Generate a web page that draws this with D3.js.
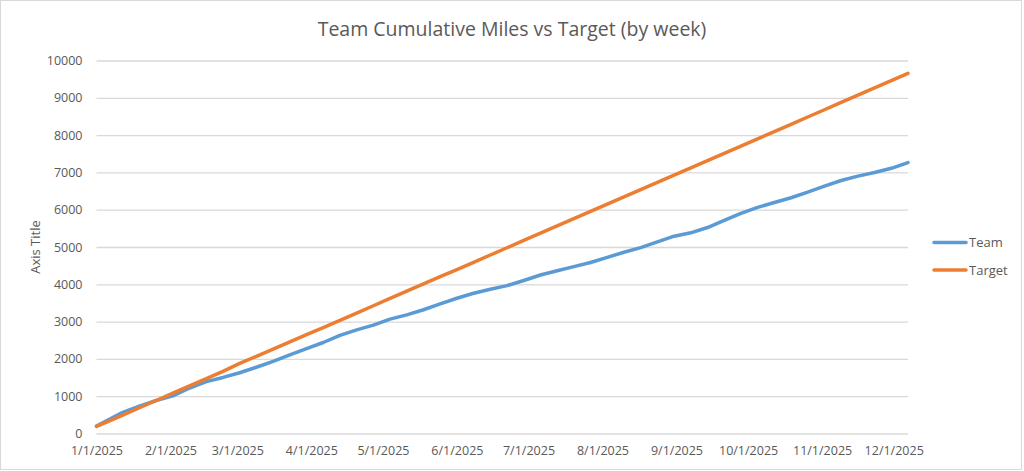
<!DOCTYPE html>
<html lang="en">
<head>
  <meta charset="UTF-8">
  <title>Team Cumulative Miles vs Target</title>
  <script src="https://cdnjs.cloudflare.com/ajax/libs/d3/7.8.5/d3.min.js"></script>
  <style>
    body {
      margin: 0;
      background: white;
    }
    svg {
      display: block;
      font-family: "Open Sans", sans-serif;
    }
  </style>
</head>
<body>
  <script>
    // weekly dates (first day of the year, then every Sunday)
    var dates = [
      "2025-01-01", "2025-01-05", "2025-01-12", "2025-01-19", "2025-01-26",
      "2025-02-02", "2025-02-09", "2025-02-16", "2025-02-23",
      "2025-03-02", "2025-03-09", "2025-03-16", "2025-03-23", "2025-03-30",
      "2025-04-06", "2025-04-13", "2025-04-20", "2025-04-27",
      "2025-05-04", "2025-05-11", "2025-05-18", "2025-05-25",
      "2025-06-01", "2025-06-08", "2025-06-15", "2025-06-22", "2025-06-29",
      "2025-07-06", "2025-07-13", "2025-07-20", "2025-07-27",
      "2025-08-03", "2025-08-10", "2025-08-17", "2025-08-24", "2025-08-31",
      "2025-09-07", "2025-09-14", "2025-09-21", "2025-09-28",
      "2025-10-05", "2025-10-12", "2025-10-19", "2025-10-26",
      "2025-11-02", "2025-11-09", "2025-11-16", "2025-11-23", "2025-11-30",
      "2025-12-07"
    ];

    var team = [
      200, 334, 568, 736, 884, 1008, 1220, 1392, 1503,
      1629, 1776, 1934, 2106, 2274, 2440, 2633, 2779, 2906,
      3067, 3180, 3318, 3475, 3626, 3760, 3867, 3965, 4101,
      4249, 4362, 4474, 4585, 4721, 4858, 4985, 5136, 5290,
      5380, 5522, 5711, 5903, 6062, 6194, 6320, 6472, 6630,
      6782, 6900, 6998, 7110, 7264
    ];

    var target = [
      190, 300, 495, 690, 885, 1080, 1275, 1470, 1665,
      1880, 2070, 2260, 2455, 2650, 2840, 3035, 3230, 3425,
      3620, 3815, 4010, 4205, 4395, 4590, 4785, 4980, 5175,
      5370, 5565, 5760, 5955, 6150, 6345, 6540, 6730, 6925,
      7120, 7315, 7510, 7705, 7900, 8095, 8290, 8485, 8680,
      8875, 9070, 9265, 9460, 9655
    ];

    var yTicks = [0, 1000, 2000, 3000, 4000, 5000, 6000, 7000, 8000, 9000, 10000];
    var xTicks = [
      "2025-01-01", "2025-02-01", "2025-03-01", "2025-04-01", "2025-05-01", "2025-06-01",
      "2025-07-01", "2025-08-01", "2025-09-01", "2025-10-01", "2025-11-01", "2025-12-01"
    ];

    var seriesNames = ["Team", "Target"];
    var seriesColors = ["#5B9BD5", "#ED7D31"];

    var w = 1024;
    var h = 471;
    var plotLeft = 96.5;
    var plotRight = 908;
    var plotTop = 60.5;
    var plotBottom = 433.5;
    var textColor = "#595959";

    var parse = d3.utcParse("%Y-%m-%d");
    var fmt = function(d) {
      return (d.getUTCMonth() + 1) + "/" + d.getUTCDate() + "/" + d.getUTCFullYear();
    };

    var series = [team, target].map(function(vals, k) {
      return {
        name: seriesNames[k],
        color: seriesColors[k],
        values: vals.map(function(v, i) {
          return { date: parse(dates[i]), value: v };
        })
      };
    });

    var svg = d3.select("body").append("svg")
      .attr("width", w)
      .attr("height", h);

    // chart frame
    svg.append("rect")
      .attr("x", 0.5)
      .attr("y", 0.5)
      .attr("width", w - 3)
      .attr("height", h - 2)
      .attr("fill", "white")
      .attr("stroke", "#d9d9d9");

    var xScale = d3.scaleUtc()
      .domain(d3.extent(dates, function(d) { return parse(d); }))
      .range([plotLeft, plotRight]);

    var yScale = d3.scaleLinear()
      .domain([0, 10000])
      .range([plotBottom, plotTop]);

    // horizontal gridlines + y labels
    var yAxis = d3.axisLeft(yScale)
      .tickValues(yTicks)
      .tickSize(-(plotRight - plotLeft))
      .tickPadding(14)
      .tickFormat(d3.format("d"));

    var gy = svg.append("g")
      .attr("transform", "translate(" + plotLeft + ",0)")
      .call(yAxis)
      .attr("font-family", null)
      .attr("font-size", null);
    gy.select(".domain").remove();
    gy.selectAll(".tick line")
      .attr("stroke", "#d9d9d9")
      .attr("stroke-width", 1.3);
    gy.selectAll(".tick text")
      .attr("fill", textColor)
      .attr("font-size", 12.5);

    // x axis labels (no tick marks)
    var xAxis = d3.axisBottom(xScale)
      .tickValues(xTicks.map(function(d) { return parse(d); }))
      .tickSize(0)
      .tickPadding(13)
      .tickFormat(fmt);

    var gx = svg.append("g")
      .attr("transform", "translate(0," + plotBottom + ")")
      .call(xAxis)
      .attr("font-family", null)
      .attr("font-size", null);
    gx.select(".domain").remove();
    gx.selectAll(".tick text")
      .attr("fill", textColor)
      .attr("font-size", 12.5);

    var line = d3.line()
      .x(function(d) { return xScale(d.date); })
      .y(function(d) { return yScale(d.value); });

    svg.selectAll("path.series")
      .data(series)
      .enter()
      .append("path")
      .attr("class", "series")
      .attr("d", function(d) { return line(d.values); })
      .attr("fill", "none")
      .attr("stroke", function(d) { return d.color; })
      .attr("stroke-width", 3.5)
      .attr("stroke-linejoin", "round")
      .attr("stroke-linecap", "round");

    // title
    svg.append("text")
      .attr("x", 512)
      .attr("y", 36)
      .attr("text-anchor", "middle")
      .attr("fill", textColor)
      .attr("font-size", 19.5)
      .text("Team Cumulative Miles vs Target (by week)");

    // y axis title
    svg.append("text")
      .attr("transform", "translate(40,247) rotate(-90)")
      .attr("text-anchor", "middle")
      .attr("fill", textColor)
      .attr("font-size", 13)
      .text("Axis Title");

    // legend
    var legend = svg.selectAll("g.legend")
      .data(series)
      .enter()
      .append("g")
      .attr("class", "legend")
      .attr("transform", function(d, i) {
        return "translate(934," + (242.5 + i * 27.5) + ")";
      });

    legend.append("line")
      .attr("x1", 0)
      .attr("x2", 32)
      .attr("stroke", function(d) { return d.color; })
      .attr("stroke-width", 3.5)
      .attr("stroke-linecap", "round");

    legend.append("text")
      .attr("x", 35)
      .attr("dy", "0.35em")
      .attr("fill", textColor)
      .attr("font-size", 13)
      .text(function(d) { return d.name; });
  </script>
</body>
</html>
